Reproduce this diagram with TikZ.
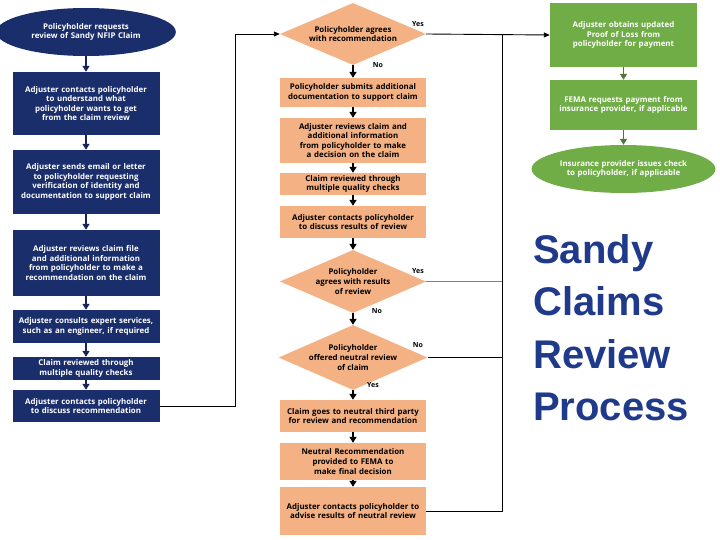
\documentclass[tikz,border=0pt]{standalone}
\usepackage{fontspec}
\setmainfont{Open Sans}
\newfontfamily\titlefont{Liberation Sans}
\usetikzlibrary{shapes.geometric,arrows.meta}
\definecolor{navy}{HTML}{1A2E6C}
\definecolor{peach}{HTML}{F4B183}
\definecolor{grn}{HTML}{70AD47}
\definecolor{ttl}{HTML}{1F3A8A}
\begin{document}
\hyphenpenalty=10000 \exhyphenpenalty=10000
\begin{tikzpicture}[x=1pt,y=-1pt,
 txt/.style={font=\bfseries\fontsize{7.9}{9.6}\selectfont,align=center,text width=#1,inner sep=1pt},
 nb/.style={fill=navy,text=white,txt=136pt,minimum width=147pt,draw=none},
 ob/.style={fill=peach,text=black,txt=136pt,minimum width=146pt},
 gb/.style={fill=grn,text=white,txt=136pt,minimum width=147pt},
 dia/.style={diamond,fill=peach,aspect=2.4,inner sep=0pt,font=\bfseries\fontsize{7.9}{9.6}\selectfont,align=center},
 arr/.style={-{Triangle[length=6pt,width=7pt]},line width=1.8pt,draw=navy!80!black},
 ln/.style={line width=0.9pt},
 lab/.style={font=\bfseries\fontsize{7}{8}\selectfont}]
\useasboundingbox[fill=white] (0,0) rectangle (720,540);
% left column
\node[nb,ellipse,minimum height=48pt,minimum width=147pt,text width=125pt] (l0) at (86,32) {Policyholder requests\\review of Sandy NFIP Claim};
\node[nb,minimum height=63pt] (l1) at (86,103.5) {Adjuster contacts policyholder to understand what policyholder wants to get from the claim review};
\node[nb,minimum height=64pt] (l2) at (86,182) {Adjuster sends email or letter to policyholder requesting verification of identity and documentation to support claim};
\node[nb,minimum height=66pt] (l3) at (86,263) {Adjuster reviews claim file and additional information from policyholder to make a recommendation on the claim};
\node[nb,minimum height=33pt] (l4) at (86,326.5) {Adjuster consults expert services, such as an engineer, if required};
\node[nb,minimum height=23pt] (l5) at (86,368.5) {Claim reviewed through multiple quality checks};
\node[nb,minimum height=32pt] (l6) at (86,406) {Adjuster contacts policyholder to discuss recommendation};
\foreach \a/\b in {l0/l1,l1/l2,l2/l3,l3/l4,l4/l5,l5/l6} \draw[arr] (\a) -- (\b);
% middle column
\node[dia,minimum width=146pt,minimum height=62pt] (d1) at (353,34) {Policyholder agrees\\with recommendation};
\node[ob,minimum height=29pt] (m1) at (353,92.5) {Policyholder submits additional documentation to support claim};
\node[ob,minimum height=45pt] (m2) at (353,140.5) {Adjuster reviews claim and additional information from policyholder to make a decision on the claim};
\node[ob,minimum height=22pt] (m3) at (353,184) {Claim reviewed through multiple quality checks};
\node[ob,minimum height=32pt] (m4) at (353,222) {Adjuster contacts policyholder to discuss results of review};
\node[dia,minimum width=146pt,minimum height=63pt] (d2) at (353,281.5) {Policyholder\\agrees with results\\of review};
\node[dia,minimum width=146pt,minimum height=65pt] (d3) at (353,357.5) {Policyholder\\offered neutral review\\of claim};
\node[ob,minimum height=32pt] (m5) at (353,416) {Claim goes to neutral third party for review and recommendation};
\node[ob,minimum height=37pt] (m6) at (353,461.5) {Neutral Recommendation provided to FEMA to make final decision};
\node[ob,minimum height=48pt] (m7) at (353,511) {Adjuster contacts policyholder to advise results of neutral review};
\foreach \a/\b in {d1/m1,m1/m2,m2/m3,m3/m4,m4/d2,d2/d3,d3/m5,m5/m6,m6/m7} \draw[arr,draw=black] (\a) -- (\b);
\node[lab] at (418,24) {Yes};
\node[lab] at (378,65) {No};
\node[lab] at (418,271) {Yes};
\node[lab] at (377,311) {No};
\node[lab] at (418,345) {No};
\node[lab] at (373,385) {Yes};
% right column
\node[gb,minimum height=64pt] (g1) at (623.5,35) {Adjuster obtains updated Proof of Loss from policyholder for payment};
\node[gb,minimum height=50pt] (g2) at (623.5,105) {FEMA requests payment from insurance provider, if applicable};
\node[gb,ellipse,minimum height=48pt,minimum width=147pt,text width=128pt] (g3) at (623.5,169) {Insurance provider issues check to policyholder, if applicable};
\draw[arr,draw=grn!70!black] (g1) -- (g2);
\draw[arr,draw=grn!70!black] (g2) -- (g3);
% connectors
\coordinate (c1) at (235,406);
\coordinate (c2) at (235,34);
\draw[ln,-{Triangle[length=6pt,width=5pt]}] (l6.east) -- (c1) -- (c2) -- (d1.west);
\coordinate (r1) at (502,34);
\coordinate (r2) at (502,511);
\draw[ln,-{Triangle[length=6pt,width=5pt]}] (d1.east) -- (g1.west);
\draw[ln] (r1) -- (r2) -- (m7.east);
\draw[ln,gray] (d2.east) -- (502,281.5);
\draw[ln] (d3.east) -- (502,357.5);
% title
\node[font=\titlefont\bfseries\fontsize{40}{52.5}\selectfont,text=ttl,align=left,anchor=north west,inner sep=0pt] (t) at (533,234) {Sandy\\Claims\\Review\\Process};
\end{tikzpicture}
\end{document}
